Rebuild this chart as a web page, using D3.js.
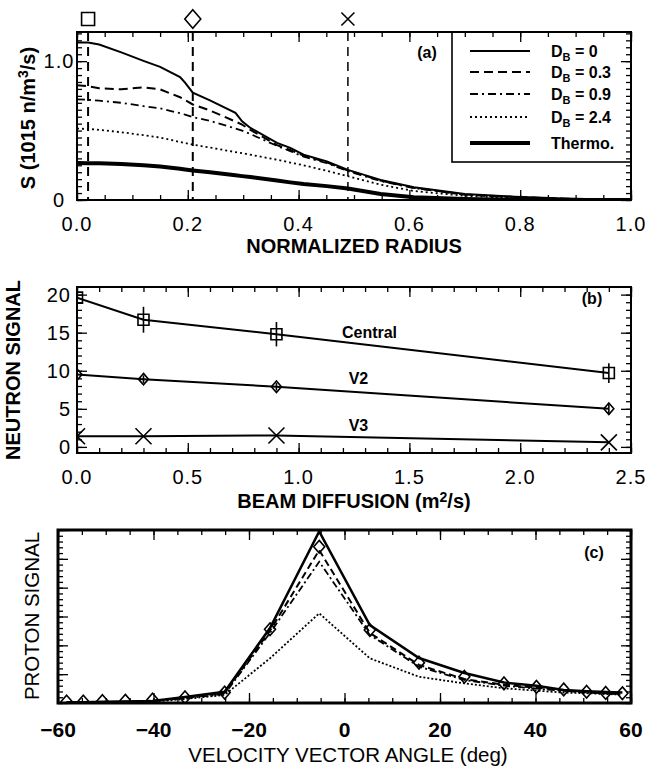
<!DOCTYPE html>
<html>
<head>
<meta charset="utf-8">
<script src="https://cdn.jsdelivr.net/npm/d3@7"></script>
<style>
  body { margin: 0; background: #fff; }
  svg { display: block; font-family: "Liberation Sans", Arial, Helvetica, sans-serif; }
</style>
</head>
<body>
<div id="chart"></div>
<script>
// ---- panel (a): source profiles vs normalized radius ----
const radius   = [0, 0.02, 0.04, 0.08, 0.12, 0.15, 0.186, 0.195, 0.209, 0.24, 0.286, 0.298, 0.313, 0.361, 0.385, 0.409, 0.451, 0.489, 0.548, 0.608, 0.7, 0.79, 0.88, 1.0];
const srcD0    = [1.135, 1.135, 1.12, 1.063, 1.002, 0.959, 0.886, 0.845, 0.773, 0.717, 0.628, 0.567, 0.519, 0.411, 0.375, 0.326, 0.278, 0.217, 0.145, 0.092, 0.043, 0.024, 0.01, 0];
const srcD03   = [0.826, 0.82, 0.805, 0.797, 0.812, 0.797, 0.74, 0.72, 0.688, 0.645, 0.565, 0.543, 0.505, 0.395, 0.36, 0.32, 0.272, 0.212, 0.14, 0.088, 0.04, 0.022, 0.009, 0];
const srcD09   = [0.725, 0.722, 0.715, 0.7, 0.676, 0.66, 0.625, 0.615, 0.597, 0.57, 0.515, 0.5, 0.475, 0.39, 0.352, 0.312, 0.265, 0.208, 0.137, 0.085, 0.038, 0.02, 0.008, 0];
const srcD24   = [0.514, 0.512, 0.505, 0.488, 0.467, 0.45, 0.418, 0.41, 0.399, 0.378, 0.345, 0.337, 0.326, 0.29, 0.27, 0.25, 0.21, 0.172, 0.11, 0.065, 0.03, 0.014, 0.005, 0];
const srcThermo= [0.266, 0.265, 0.264, 0.259, 0.25, 0.241, 0.225, 0.22, 0.213, 0.2, 0.178, 0.172, 0.165, 0.14, 0.127, 0.115, 0.1, 0.083, 0.043, 0.02, 0.007, 0.002, 0, 0];
const legendNames = ["0", "0.3", "0.9", "2.4", "Thermo."];
const sightR   = [0.02, 0.209, 0.489];
const sightSym = ["square", "diamond", "cross"];

// ---- panel (b): neutron signal vs beam diffusion ----
const diffusion  = [0, 0.3, 0.9, 2.4];
const centralSig = [19.6, 16.7, 14.8, 9.7];
const centralErr = [0, 1.7, 1.6, 1.3];
const v2Sig      = [9.5, 8.9, 7.9, 5.0];
const v2Err      = [0, 0.5, 0.5, 0.7];
const v3Sig      = [1.4, 1.4, 1.5, 0.6];

// ---- panel (c): proton signal vs velocity vector angle ----
const angles    = [-58.2, -54.7, -50.7, -45.9, -40.2, -33.4, -25.1, -15.6, -5.3, 5.3, 15.6, 25.1, 33.4, 40.2, 45.9, 50.7, 54.7, 58.2];
const protD0    = [0.03, 0.03, 0.04, 0.05, 0.07, 0.21, 0.39, 2.6, 5.95, 2.7, 1.56, 1.04, 0.71, 0.6, 0.45, 0.41, 0.38, 0.36];
const protD03   = [0.02, 0.02, 0.03, 0.05, 0.08, 0.18, 0.35, 2.51, 5.3, 2.43, 1.32, 0.83, 0.63, 0.53, 0.44, 0.37, 0.34, 0.32];
const protD09   = [0.02, 0.02, 0.03, 0.04, 0.07, 0.16, 0.31, 2.43, 4.9, 2.36, 1.26, 0.8, 0.6, 0.5, 0.42, 0.36, 0.33, 0.3];
const protD24   = [0.01, 0.01, 0.01, 0.02, 0.04, 0.14, 0.28, 1.55, 3.11, 1.55, 0.91, 0.68, 0.51, 0.43, 0.36, 0.34, 0.31, 0.29];
const protMeas  = [0.05, 0.05, 0.07, 0.08, 0.12, 0.2, 0.36, 2.56, 5.42, 2.53, 1.4, 0.91, 0.68, 0.56, 0.47, 0.39, 0.35, 0.34];

const W = 659, H = 769;
const styles = [
  { dash: null, w: 2 },
  { dash: "9,5", w: 2 },
  { dash: "8,4,2,4", w: 1.8 },
  { dash: "2,3", w: 1.8 },
  { dash: null, w: 4 }
];

const svg = d3.select("#chart").append("svg").attr("width", W).attr("height", H);
svg.append("rect").attr("width", W).attr("height", H).attr("fill", "#fff");

function frame(g, x, y, xMaj, xMin, yMaj, yMin, fw) {
  const [x0, x1] = x.range(), [y0, y1] = y.range();
  const put = (axis, tx, ty) => g.append("g").attr("transform", `translate(${tx},${ty})`).call(axis)
    .call(s => { s.select(".domain").remove(); s.selectAll("text").remove();
                 s.selectAll("line").attr("stroke", "#000").attr("stroke-width", 1.3); });
  [[xMaj, 10], [xMin, 5]].forEach(([v, l]) => {
    put(d3.axisBottom(x).tickValues(v).tickSize(-l), 0, y0);
    put(d3.axisTop(x).tickValues(v).tickSize(-l), 0, y1);
  });
  [[yMaj, 10], [yMin, 5]].forEach(([v, l]) => {
    put(d3.axisLeft(y).tickValues(v).tickSize(-l), x0, 0);
    put(d3.axisRight(y).tickValues(v).tickSize(-l), x1, 0);
  });
  g.append("rect").attr("x", x0).attr("y", y1).attr("width", x1 - x0).attr("height", y0 - y1)
    .attr("fill", "none").attr("stroke", "#000").attr("stroke-width", fw);
}

function clip(id, x, y) {
  const [x0, x1] = x.range(), [y0, y1] = y.range();
  svg.append("clipPath").attr("id", id).append("rect")
    .attr("x", x0).attr("y", y1).attr("width", x1 - x0).attr("height", y0 - y1);
  return svg.append("g").attr("clip-path", `url(#${id})`);
}

function text(g, x, y, str, opt = {}) {
  return g.append("text").attr("x", x).attr("y", y).text(str)
    .attr("text-anchor", opt.anchor || "middle")
    .attr("font-size", opt.size || 20)
    .attr("font-weight", opt.weight || "normal")
    .attr("letter-spacing", opt.ls || 0);
}

function symbol(g, type, cx, cy, s) {
  const p = d3.path();
  if (type === "square") { p.rect(cx - s, cy - s, 2 * s, 2 * s); }
  else if (type === "diamond") { p.moveTo(cx, cy - s * 1.15); p.lineTo(cx + s, cy); p.lineTo(cx, cy + s * 1.15); p.lineTo(cx - s, cy); p.closePath(); }
  else { p.moveTo(cx - s, cy - s); p.lineTo(cx + s, cy + s); p.moveTo(cx - s, cy + s); p.lineTo(cx + s, cy - s); }
  return g.append("path").attr("d", p.toString()).attr("fill", "none").attr("stroke", "#000").attr("stroke-width", 1.6);
}

function seriesLine(g, x, y, xs, ys, st) {
  g.append("path").datum(ys)
    .attr("d", d3.line().x((d, i) => x(xs[i])).y(d => y(d)))
    .attr("fill", "none").attr("stroke", "#000")
    .attr("stroke-width", st.w).attr("stroke-dasharray", st.dash);
}

// ================= panel (a) =================
const xa = d3.scaleLinear().domain([0, 1]).range([77, 631]);
const ya = d3.scaleLinear().domain([0, 1.21]).range([200, 32]);
const gA = svg.append("g");
const cA = clip("clipA", xa, ya);
[srcD0, srcD03, srcD09, srcD24, srcThermo].forEach((s, i) => seriesLine(cA, xa, ya, radius, s, styles[i]));
sightR.forEach((r, i) => {
  cA.append("line").attr("x1", xa(r)).attr("x2", xa(r)).attr("y1", ya.range()[1]).attr("y2", ya.range()[0])
    .attr("stroke", "#000").attr("stroke-width", i < 2 ? 2 : 1.5).attr("stroke-dasharray", "9,6");
  symbol(gA, sightSym[i], xa(r), 19, sightSym[i] === "diamond" ? 8 : 6.5);
});
// legend box
const lgX0 = 452, lgY = [51, 72, 94, 117, 143];
gA.append("rect").attr("x", lgX0).attr("y", ya.range()[1]).attr("width", xa.range()[1] - lgX0)
  .attr("height", 162 - ya.range()[1]).attr("fill", "#fff").attr("stroke", "#000").attr("stroke-width", 1.6);
legendNames.forEach((n, i) => {
  gA.append("line").attr("x1", 470).attr("x2", 530).attr("y1", lgY[i]).attr("y2", lgY[i])
    .attr("stroke", "#000").attr("stroke-width", styles[i].w).attr("stroke-dasharray", styles[i].dash);
  const t = text(gA, 551, lgY[i] + 6, "", { anchor: "start", size: 16, weight: "bold" });
  if (i < 4) {
    t.append("tspan").text("D");
    t.append("tspan").attr("dy", 4).attr("font-size", 11).text("B");
    t.append("tspan").attr("dy", -4).text(" = " + n);
  } else t.text(n);
});
frame(gA, xa, ya, d3.range(0, 1.01, 0.2), d3.range(0, 1.01, 0.05), [0, 1.0], d3.range(0, 1.21, 0.05), 2);
d3.range(0, 1.01, 0.2).forEach(v => text(gA, xa(v), 231, d3.format(".1f")(v), { ls: 1 }));
[0, 1.0].forEach(v => text(gA, 59, ya(v) + 7, v === 0 ? "0" : "1.0", { ls: 1 }));
text(gA, (xa.range()[0] + xa.range()[1]) / 2, 253, "NORMALIZED RADIUS", { weight: "bold" });
{
  const t = text(gA, 0, 0, "", { weight: "bold" }).attr("transform", "translate(35,118) rotate(-90)");
  t.append("tspan").text("S (1015 n/m");
  t.append("tspan").attr("dy", -7).attr("font-size", 14).text("3");
  t.append("tspan").attr("dy", 7).text("/s)");
}
text(gA, 427, 58, "(a)", { size: 16, weight: "bold" });

// ================= panel (b) =================
const xb = d3.scaleLinear().domain([0, 2.5]).range([77, 631]);
const yb = d3.scaleLinear().domain([-0.8, 21]).range([453, 287]);
const gB = svg.append("g");
const cB = clip("clipB", xb, yb);
const lineB = { dash: null, w: 2 };
[centralSig, v2Sig, v3Sig].forEach(s => seriesLine(cB, xb, yb, diffusion, s, lineB));
diffusion.forEach((d, i) => {
  [[centralSig, centralErr], [v2Sig, v2Err]].forEach(([s, e]) => {
    if (e[i] > 0) cB.append("line").attr("x1", xb(d)).attr("x2", xb(d))
      .attr("y1", yb(s[i] - e[i])).attr("y2", yb(s[i] + e[i])).attr("stroke", "#000").attr("stroke-width", 1.6);
  });
  symbol(cB, "square", xb(d), yb(centralSig[i]), 5.5);
  symbol(cB, "diamond", xb(d), yb(v2Sig[i]), 5);
  symbol(cB, "cross", xb(d), yb(v3Sig[i]), 8);
});
frame(gB, xb, yb, d3.range(0, 2.51, 0.5), d3.range(0, 2.51, 0.1), d3.range(0, 20.1, 5), d3.range(0, 21, 1), 2);
d3.range(0, 2.51, 0.5).forEach(v => text(gB, xb(v), 484, d3.format(".1f")(v), { ls: 1 }));
d3.range(0, 20.1, 5).forEach(v => text(gB, 71, yb(v) + 7, String(v), { anchor: "end", ls: 1 }));
{
  const t = text(gB, (xb.range()[0] + xb.range()[1]) / 2, 508, "", { weight: "bold" });
  t.append("tspan").text("BEAM DIFFUSION (m");
  t.append("tspan").attr("dy", -6).attr("font-size", 14).text("2");
  t.append("tspan").attr("dy", 6).text("/s)");
}
text(gB, 0, 0, "NEUTRON SIGNAL", { weight: "bold" }).attr("transform", "translate(20,370) rotate(-90)");
text(gB, xb(1.32), yb(15.1) + 6, "Central", { size: 16, weight: "bold" });
text(gB, xb(1.27), yb(9.05) + 6, "V2", { size: 16, weight: "bold" });
text(gB, xb(1.27), yb(2.9) + 6, "V3", { size: 16, weight: "bold" });
text(gB, 592, 304, "(b)", { size: 16, weight: "bold" });

// ================= panel (c) =================
const xc = d3.scaleLinear().domain([-60, 60]).range([58, 631]);
const yc = d3.scaleLinear().domain([0, 6]).range([703, 530]);
const gC = svg.append("g");
const cC = clip("clipC", xc, yc);
const stylesC = [{ dash: null, w: 2.5 }, { dash: "7,4", w: 2 }, { dash: "7,3,2,3", w: 1.8 }, { dash: "2,2", w: 1.8 }];
[protD0, protD03, protD09, protD24].forEach((s, i) => seriesLine(cC, xc, yc, angles, s, stylesC[i]));
angles.forEach((a, i) => symbol(cC, "diamond", xc(a), yc(protMeas[i]), 5.5));
frame(gC, xc, yc, d3.range(-60, 61, 20), d3.range(-60, 61, 5), d3.range(0, 6.01, 1), d3.range(0, 6.01, 0.2), 3);
d3.range(-60, 61, 20).forEach(v => text(gC, xc(v), 737, d3.format("d")(v), { size: 21, weight: "bold" }));
text(gC, 348, 762, "VELOCITY VECTOR ANGLE (deg)", { size: 20.5 });
text(gC, 0, 0, "PROTON SIGNAL", { size: 20.5 }).attr("transform", "translate(39,616) rotate(-90)");
text(gC, 594, 558, "(c)", { size: 16, weight: "bold" });
</script>
</body>
</html>
